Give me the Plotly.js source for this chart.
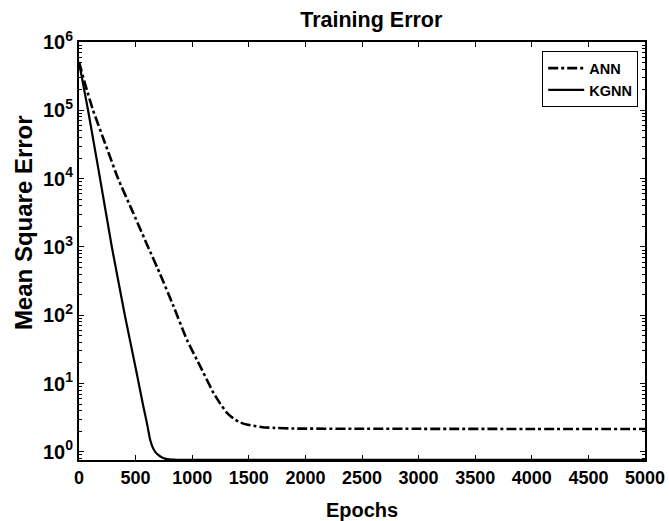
<!DOCTYPE html>
<html>
<head>
<meta charset="utf-8">
<script src="https://cdn.plot.ly/plotly-3.0.1.min.js"></script>
<style>html,body{margin:0;padding:0;background:#fff;}#chart{width:669px;height:521px;}</style>
</head>
<body>
<div id="chart"></div>
<script>
// Data
var annEpochs = [0, 60, 124, 230, 345, 470, 610, 717, 835, 953, 1071, 1189, 1250, 1307, 1370, 1425, 1480, 1543, 1620, 1720, 1900, 2500, 3000, 4000, 5000];
var annMSE    = [510000, 224000, 100000, 33000, 10000, 3400, 1000, 398, 135, 43.6, 17.8, 7.24, 5.0, 3.72, 3.02, 2.69, 2.51, 2.40, 2.29, 2.24, 2.19, 2.17, 2.17, 2.16, 2.16];

var kgnnEpochs = [0, 40, 80, 186, 290, 405, 510, 569, 600, 628, 650, 673, 700, 730, 760, 800, 850, 1000, 5000];
var kgnnMSE    = [510000, 224000, 100000, 10000, 1000, 100, 14.1, 4.57, 2.63, 1.51, 1.17, 1.0, 0.90, 0.83, 0.794, 0.773, 0.766, 0.765, 0.765];

var yTickVals = [1, 10, 100, 1000, 10000, 100000, 1000000];
var yTickText = ['10<sup>0</sup>', '10<sup>1</sup>', '10<sup>2</sup>', '10<sup>3</sup>', '10<sup>4</sup>', '10<sup>5</sup>', '10<sup>6</sup>'];
var xTickVals = [0, 500, 1000, 1500, 2000, 2500, 3000, 3500, 4000, 4500, 5000];

var FONT = '"Liberation Sans", Arial, Helvetica, sans-serif';

var traces = [
  {
    x: annEpochs, y: annMSE, name: 'ANN', type: 'scatter', mode: 'lines',
    line: {color: 'black', width: 2.6, dash: '10px,3px,3px,3px', shape: 'spline', smoothing: 0.3}
  },
  {
    x: kgnnEpochs, y: kgnnMSE, name: 'KGNN', type: 'scatter', mode: 'lines',
    line: {color: 'black', width: 2.2, shape: 'spline', smoothing: 0.3}
  }
];

var layout = {
  width: 669, height: 521,
  margin: {l: 79, r: 24, t: 42, b: 61},
  paper_bgcolor: 'white', plot_bgcolor: 'white',
  font: {family: FONT, color: 'black', weight: 'bold'},
  showlegend: true,
  title: {text: 'Training Error', font: {family: FONT, size: 21.5, weight: 'bold', color: 'black'},
          x: 0.555, xanchor: 'center', y: 0.962, yanchor: 'middle'},
  xaxis: {
    range: [0, 5000], tickvals: xTickVals, ticktext: xTickVals.map(String),
    ticks: 'inside', ticklen: 5, tickwidth: 1, tickcolor: 'black',
    showline: true, linecolor: 'black', linewidth: 2, mirror: 'ticks',
    showgrid: false, zeroline: false,
    tickfont: {family: FONT, size: 18, weight: 'bold', color: 'black'},
    title: {text: 'Epochs', font: {family: FONT, size: 20, weight: 'bold', color: 'black'}, standoff: 16}
  },
  yaxis: {
    type: 'log', range: [-0.12, 6],
    tickvals: yTickVals, ticktext: yTickText,
    ticks: 'inside', ticklen: 5, tickwidth: 1, tickcolor: 'black',
    minor: {ticks: 'inside', ticklen: 3, tickwidth: 1, tickcolor: 'black', dtick: 'D1', showgrid: false},
    showline: true, linecolor: 'black', linewidth: 2, mirror: 'ticks',
    showgrid: false, zeroline: false,
    tickfont: {family: FONT, size: 20, weight: 'bold', color: 'black'}
  },
  legend: {
    x: 0.988, xanchor: 'right', y: 0.978, yanchor: 'top',
    bgcolor: 'white', bordercolor: 'black', borderwidth: 1,
    font: {family: FONT, size: 14.5, weight: 'bold', color: 'black'},
    tracegroupgap: 0, itemwidth: 36
  },
  annotations: [
    {text: 'Mean Square Error', textangle: -90, xref: 'paper', yref: 'paper',
     x: -0.099, y: 0.569, xanchor: 'center', yanchor: 'middle', showarrow: false,
     font: {family: FONT, size: 24, weight: 'bold', color: 'black'}}
  ]
};

Plotly.newPlot('chart', traces, layout, {displayModeBar: false, staticPlot: true});
</script>
</body>
</html>
